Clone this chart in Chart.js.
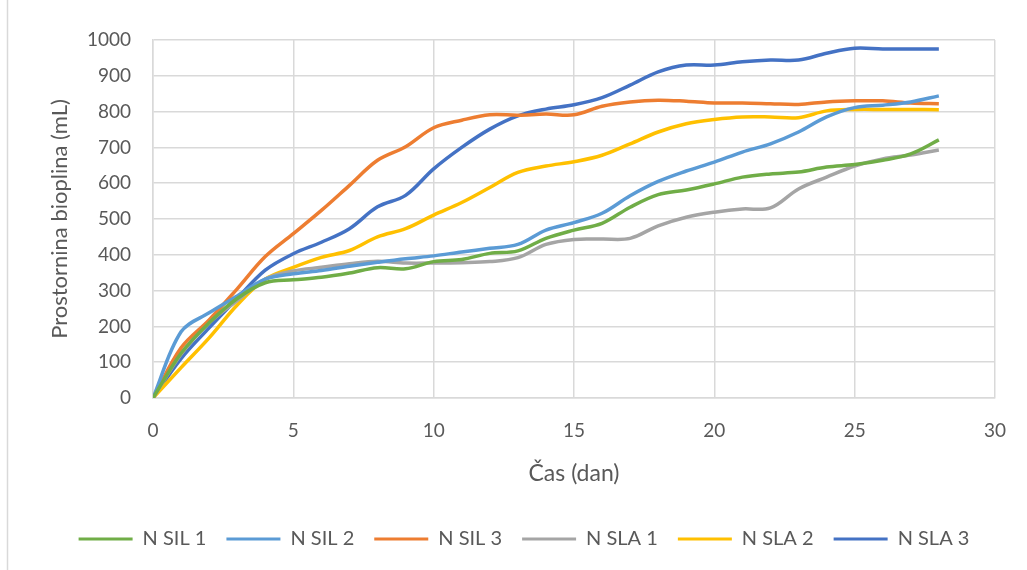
<!DOCTYPE html>
<html>
<head>
<meta charset="utf-8">
<script src="https://cdn.jsdelivr.net/npm/chart.js@4/dist/chart.umd.min.js"></script>
<style>
  html, body { margin: 0; padding: 0; background: #ffffff; }
  #wrap { position: relative; width: 1027px; height: 570px; }
</style>
</head>
<body>
<div id="wrap"><canvas id="c" width="1027" height="570"></canvas></div>
<script>
// Dan meritve (0–28)
const days = [0,1,2,3,4,5,6,7,8,9,10,11,12,13,14,15,16,17,18,19,20,21,22,23,24,25,26,27,28];

// Kumulativna prostornina bioplina (mL)
const nSil1 = [0,125,210,278,322,330,337,349,364,361,381,387,404,411,446,469,488,533,568,581,598,617,626,631,645,652,664,682,721];
const nSil2 = [0,185,238,285,332,347,356,368,379,389,397,408,418,429,469,490,516,565,605,634,659,687,710,743,785,811,818,827,844];
const nSil3 = [0,140,218,305,395,459,524,594,664,702,755,776,791,790,793,791,815,827,832,829,824,824,822,820,827,830,830,824,822];
const nSla1 = [0,122,210,272,332,355,365,375,382,377,377,378,381,392,429,443,444,446,481,505,519,528,531,584,617,648,668,679,693];
const nSla2 = [0,85,168,260,332,365,393,412,450,473,511,546,588,630,648,660,678,710,743,766,778,785,785,783,802,806,806,806,805];
const nSla3 = [0,110,196,278,357,403,435,473,534,566,640,700,751,788,807,819,839,874,911,930,930,939,944,944,963,977,975,975,975];

const seriesNames = ['N SIL 1','N SIL 2','N SIL 3','N SLA 1','N SLA 2','N SLA 3'];
const seriesValues = [nSil1, nSil2, nSil3, nSla1, nSla2, nSla3];
const seriesColors = ['#70AD47','#5B9BD5','#ED7D31','#A5A5A5','#FFC000','#4472C4'];

const xTitle = 'Čas (dan)';
const yTitle = 'Prostornina bioplina (mL)';

const textColor = '#595959';
const gridColor = '#D9D9D9';
const fontFamily = 'Lato, "Open Sans", sans-serif';

const datasets = seriesNames.map((name, i) => ({
  label: name,
  data: days.map((d, j) => ({ x: d, y: seriesValues[i][j] })),
  borderColor: seriesColors[i],
  backgroundColor: seriesColors[i],
  borderWidth: 3.5,
  pointRadius: 0,
  pointHoverRadius: 0,
  tension: 0.35,
  fill: false
}));

// white page background and the thin frame line on the left
const frame = {
  id: 'frame',
  beforeDraw(chart) {
    const ctx = chart.ctx;
    ctx.save();
    ctx.fillStyle = '#ffffff';
    ctx.fillRect(0, 0, chart.width, chart.height);
    ctx.strokeStyle = gridColor;
    ctx.lineWidth = 1.5;
    ctx.beginPath();
    ctx.moveTo(7.5, 0);
    ctx.lineTo(7.5, chart.height);
    ctx.stroke();
    ctx.restore();
  }
};

new Chart(document.getElementById('c'), {
  type: 'line',
  data: { datasets },
  plugins: [frame],
  options: {
    responsive: false,
    animation: false,
    events: [],
    layout: { padding: { left: 47, right: 26, top: 40, bottom: 11 } },
    scales: {
      x: {
        type: 'linear',
        min: 0, max: 30,
        ticks: { stepSize: 5, color: textColor, font: { family: fontFamily, size: 19 }, padding: 21, maxRotation: 0,
                 callback: v => String(v) },
        grid: { color: gridColor, lineWidth: 1.5, drawTicks: false },
        border: { color: gridColor, width: 1.5 },
        title: { display: true, text: xTitle, color: textColor, font: { family: fontFamily, size: 23 }, padding: { top: 0, bottom: 22 } },
        afterFit(scale) { scale.height = 111; }
      },
      y: {
        min: 0, max: 1000,
        ticks: { stepSize: 100, color: textColor, font: { family: fontFamily, size: 19 }, padding: 22,
                 callback: v => String(v) },
        grid: { color: gridColor, lineWidth: 1.5, drawTicks: false },
        border: { color: gridColor, width: 1.5 },
        title: { display: true, text: yTitle, color: textColor, font: { family: fontFamily, size: 22 }, padding: { top: 0, bottom: 0 } },
        afterFit(scale) { scale.width = 106; }
      }
    },
    plugins: {
      tooltip: { enabled: false },
      legend: {
        position: 'bottom',
        labels: {
          color: textColor,
          font: { family: fontFamily, size: 20 },
          boxWidth: 54,
          boxHeight: 3,
          padding: 20,
          generateLabels(chart) {
            return Chart.defaults.plugins.legend.labels.generateLabels(chart).map(l => Object.assign(l, { lineWidth: 0 }));
          }
        }
      }
    }
  }
});
</script>
</body>
</html>
